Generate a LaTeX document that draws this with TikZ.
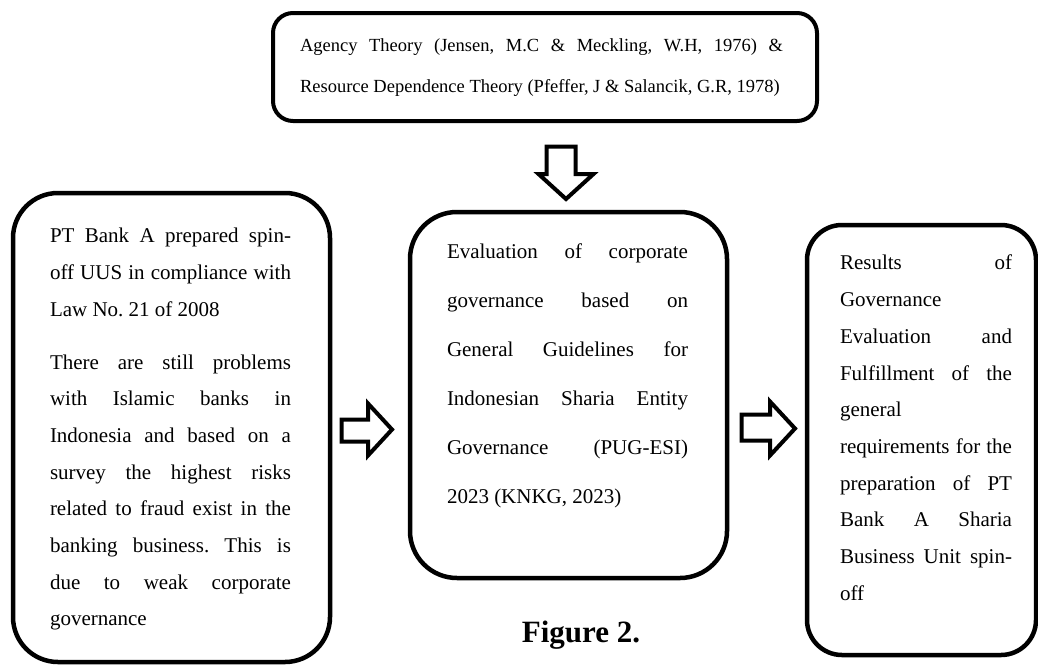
\documentclass[tikz,border=0pt]{standalone}
\usepackage{fontspec}
\setmainfont{Liberation Serif}
\newcommand{\rsp}{\spaceskip=0pt\xspaceskip=0pt\frenchspacing}
\newcommand{\jl}[2]{\makebox[#1][s]{\rsp #2}}
\begin{document}
\begin{tikzpicture}[x=1pt,y=-1pt]
\tikzset{
  bx/.style={draw=black,line width=4.5pt,inner sep=0pt,outer sep=0pt,rectangle},
  txt/.style={anchor=north west,inner sep=0pt,outer sep=0pt,align=left},
  blk/.style={draw=black,line width=4pt,fill=white,line join=miter},
}
\useasboundingbox (0,0) rectangle (1038,664);
\fill[white] (0,0) rectangle (1038,664);

% boxes
\node[bx,line width=4pt,rounded corners=20pt,minimum width=544pt,minimum height=108pt] (theory) at (545,67) {};
\node[bx,rounded corners=45pt,minimum width=317pt,minimum height=469pt] (prob) at (171.5,427.5) {};
\node[bx,rounded corners=47pt,minimum width=317pt,minimum height=366pt] (eval) at (568.5,395) {};
\node[bx,rounded corners=35pt,minimum width=229pt,minimum height=430pt] (res) at (921.5,440) {};

% texts
\node[txt,text width=490pt,font=\fontsize{18.5}{41}\selectfont] (theorytxt) at (300,22.3)
 {\rsp\strut\jl{483pt}{Agency Theory (Jensen, M.C \& Meckling, W.H, 1976) \&}\\
  Resource Dependence Theory (Pfeffer, J \& Salancik, G.R, 1978)};

\node[txt,text width=241pt,font=\fontsize{21}{36.7}\selectfont] (probtxt) at (50,217.3)
 {\rsp\strut\jl{241pt}{PT Bank A prepared spin-}\\
  \jl{241pt}{off UUS in compliance with}\\
  Law No. 21 of 2008\\[16pt]
  \jl{241pt}{There are still problems}\\
  \jl{241pt}{with Islamic banks in}\\
  \jl{241pt}{Indonesia and based on a}\\
  \jl{241pt}{survey the highest risks}\\
  \jl{241pt}{related to fraud exist in the}\\
  \jl{241pt}{banking business. This is}\\
  \jl{241pt}{due to weak corporate}\\
  governance};

\node[txt,text width=241pt,font=\fontsize{21}{49}\selectfont] (evaltxt) at (447,223.7)
 {\rsp\strut\jl{241pt}{Evaluation of corporate}\\
  \jl{241pt}{governance based on}\\
  \jl{241pt}{General Guidelines for}\\
  \jl{241pt}{Indonesian Sharia Entity}\\
  \jl{241pt}{Governance (PUG-ESI)}\\
  2023 (KNKG, 2023)};

\node[txt,text width=180pt,font=\fontsize{21}{36.7}\selectfont] (restxt) at (840,244.3)
 {\rsp\strut\jl{172pt}{Results of}\\
  Governance\\
  \jl{172pt}{Evaluation and}\\
  \jl{172pt}{Fulfillment of the}\\
  general\\
  \jl{172pt}{requirements for the}\\
  \jl{172pt}{preparation of PT}\\
  \jl{172pt}{Bank A Sharia}\\
  \jl{172pt}{Business Unit spin-}\\
  off};

\node[anchor=base,inner sep=0pt,font=\bfseries\fontsize{31}{31}\selectfont] (fig) at (581,642) {Figure 2.};

% block arrows
\draw[blk] (546.5,146.5) -- (575.5,146.5) -- (575.5,174) -- (593.5,174) -- (566,199)
  -- (538.5,174) -- (546.5,174) -- cycle;
\draw[blk] (341.5,419.5) -- (368,419.5) -- (368,403.5) -- (392,429.5) -- (368,455.5)
  -- (368,441.5) -- (341.5,441.5) -- cycle;
\draw[blk] (741.5,414.5) -- (770,414.5) -- (770,401.5) -- (795,428.5) -- (770,455.5)
  -- (770,440.5) -- (741.5,440.5) -- cycle;
\end{tikzpicture}
\end{document}
